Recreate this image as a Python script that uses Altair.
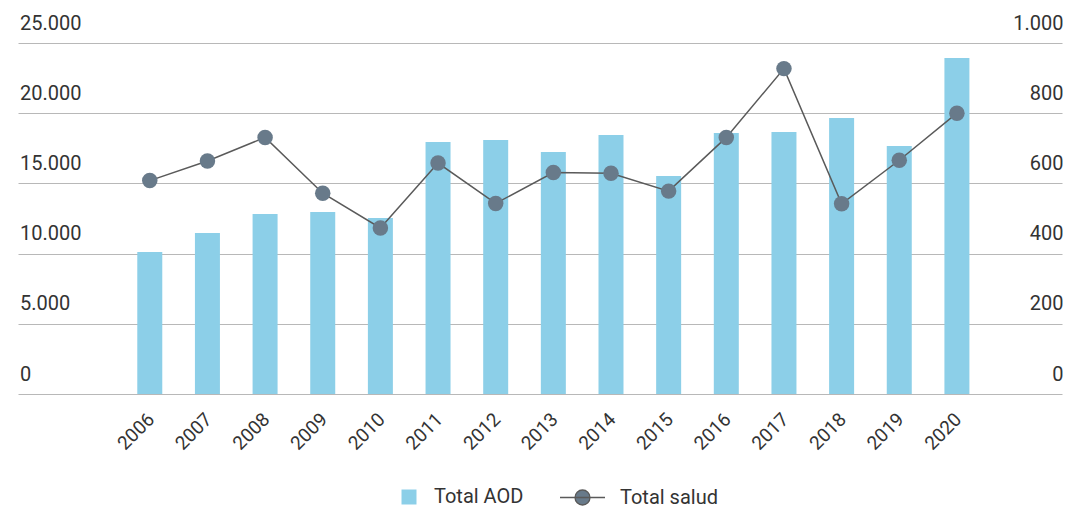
import altair as alt
import pandas as pd

years = [2006, 2007, 2008, 2009, 2010, 2011, 2012, 2013,
         2014, 2015, 2016, 2017, 2018, 2019, 2020]
total_aod = [10110, 11470, 12820, 12960, 12540, 17950, 18090, 17240,
             18450, 15530, 18590, 18660, 19660, 17660, 23930]
total_salud = [608, 664, 731, 572, 473, 658, 543, 631, 629, 578, 731, 927,
               542, 666, 800]

df = pd.DataFrame({"year": years, "aod": total_aod, "salud": total_salud})

FONT = "Roboto"
TEXT = "#333333"
BAR = "#8ccfe8"
DOT = "#687a8a"
LINE = "#5a5a5a"
GRID = "#b8b8b8"

fmt = "replace(format(datum.value, ','), ',', '.')"

xscale = alt.Scale(domain=[2003.801, 2021.736], nice=False, zero=False)
xaxis = alt.Axis(title=None, values=years, format="d", labelAngle=-45,
                 labelAlign="right", labelBaseline="middle", labelPadding=22,
                 labelOffset=1, labelFontSize=19, labelFont=FONT,
                 labelColor=TEXT, domain=False, ticks=False, grid=False)

bars = alt.Chart(df).transform_calculate(serie="'Total AOD'").mark_bar(size=25).encode(
    x=alt.X("year:Q", scale=xscale, axis=xaxis),
    y=alt.Y("aod:Q", scale=alt.Scale(domain=[0, 25000]),
            axis=alt.Axis(title=None, values=[0, 5000, 10000, 15000, 20000, 25000],
                          labelExpr=fmt, orient="left", labelAlign="left",
                          labelBaseline="alphabetic", labelOffset=-14,
                          labelPadding=-1.5, tickSize=0, ticks=False, domain=False,
                          grid=True, gridColor=GRID, gridWidth=1,
                          labelFontSize=20, labelFont=FONT, labelColor=TEXT)),
    fill=alt.Fill("serie:N", scale=alt.Scale(domain=["Total AOD"], range=[BAR]),
                  legend=alt.Legend(title=None, orient="none", legendX=381,
                                    legendY=444, symbolType="square",
                                    symbolSize=225, labelOffset=15,
                                    labelFontSize=20, labelFont=FONT,
                                    labelColor=TEXT, padding=0,
                                    symbolStrokeWidth=0)),
)

r = 0.333
sym = (f"M-1,0L1,0M-{r},0A{r},{r},0,1,1,{r},0A{r},{r},0,1,1,-{r},0Z")

line = alt.Chart(df).transform_calculate(serie="'Total salud'").mark_line(
    strokeWidth=1.5).encode(
    x=alt.X("year:Q", scale=xscale),
    y=alt.Y("salud:Q", scale=alt.Scale(domain=[0, 1000]),
            axis=alt.Axis(title=None, values=[0, 200, 400, 600, 800, 1000],
                          labelExpr=fmt, orient="right", labelAlign="right",
                          labelBaseline="alphabetic", labelOffset=-14,
                          labelPadding=1, tickSize=0, ticks=False, domain=False,
                          grid=False, labelFontSize=20, labelFont=FONT,
                          labelColor=TEXT)),
    stroke=alt.Stroke("serie:N", scale=alt.Scale(domain=["Total salud"], range=[LINE]),
                      legend=alt.Legend(title=None, orient="none", legendX=541,
                                        legendY=431, symbolType=sym,
                                        symbolSize=2025, symbolFillColor=DOT,
                                        symbolStrokeWidth=1.3, labelOffset=14,
                                        labelFontSize=20, labelFont=FONT,
                                        labelColor=TEXT, padding=0)),
)

points = alt.Chart(df).mark_point(filled=True, size=240, opacity=1, color=DOT).encode(
    x=alt.X("year:Q", scale=xscale),
    y=alt.Y("salud:Q", scale=alt.Scale(domain=[0, 1000]), axis=None),
)

chart = alt.layer(bars, line, points).resolve_scale(
    y="independent", fill="independent", stroke="independent"
).properties(
    width=1044, height=351,
    autosize=alt.AutoSizeParams(type="none"),
    padding={"left": 10, "top": 35, "right": 3, "bottom": 115},
    background="white",
).configure_view(stroke=None)

chart.save("out.html", embed_options={"renderer": "svg", "actions": False})
